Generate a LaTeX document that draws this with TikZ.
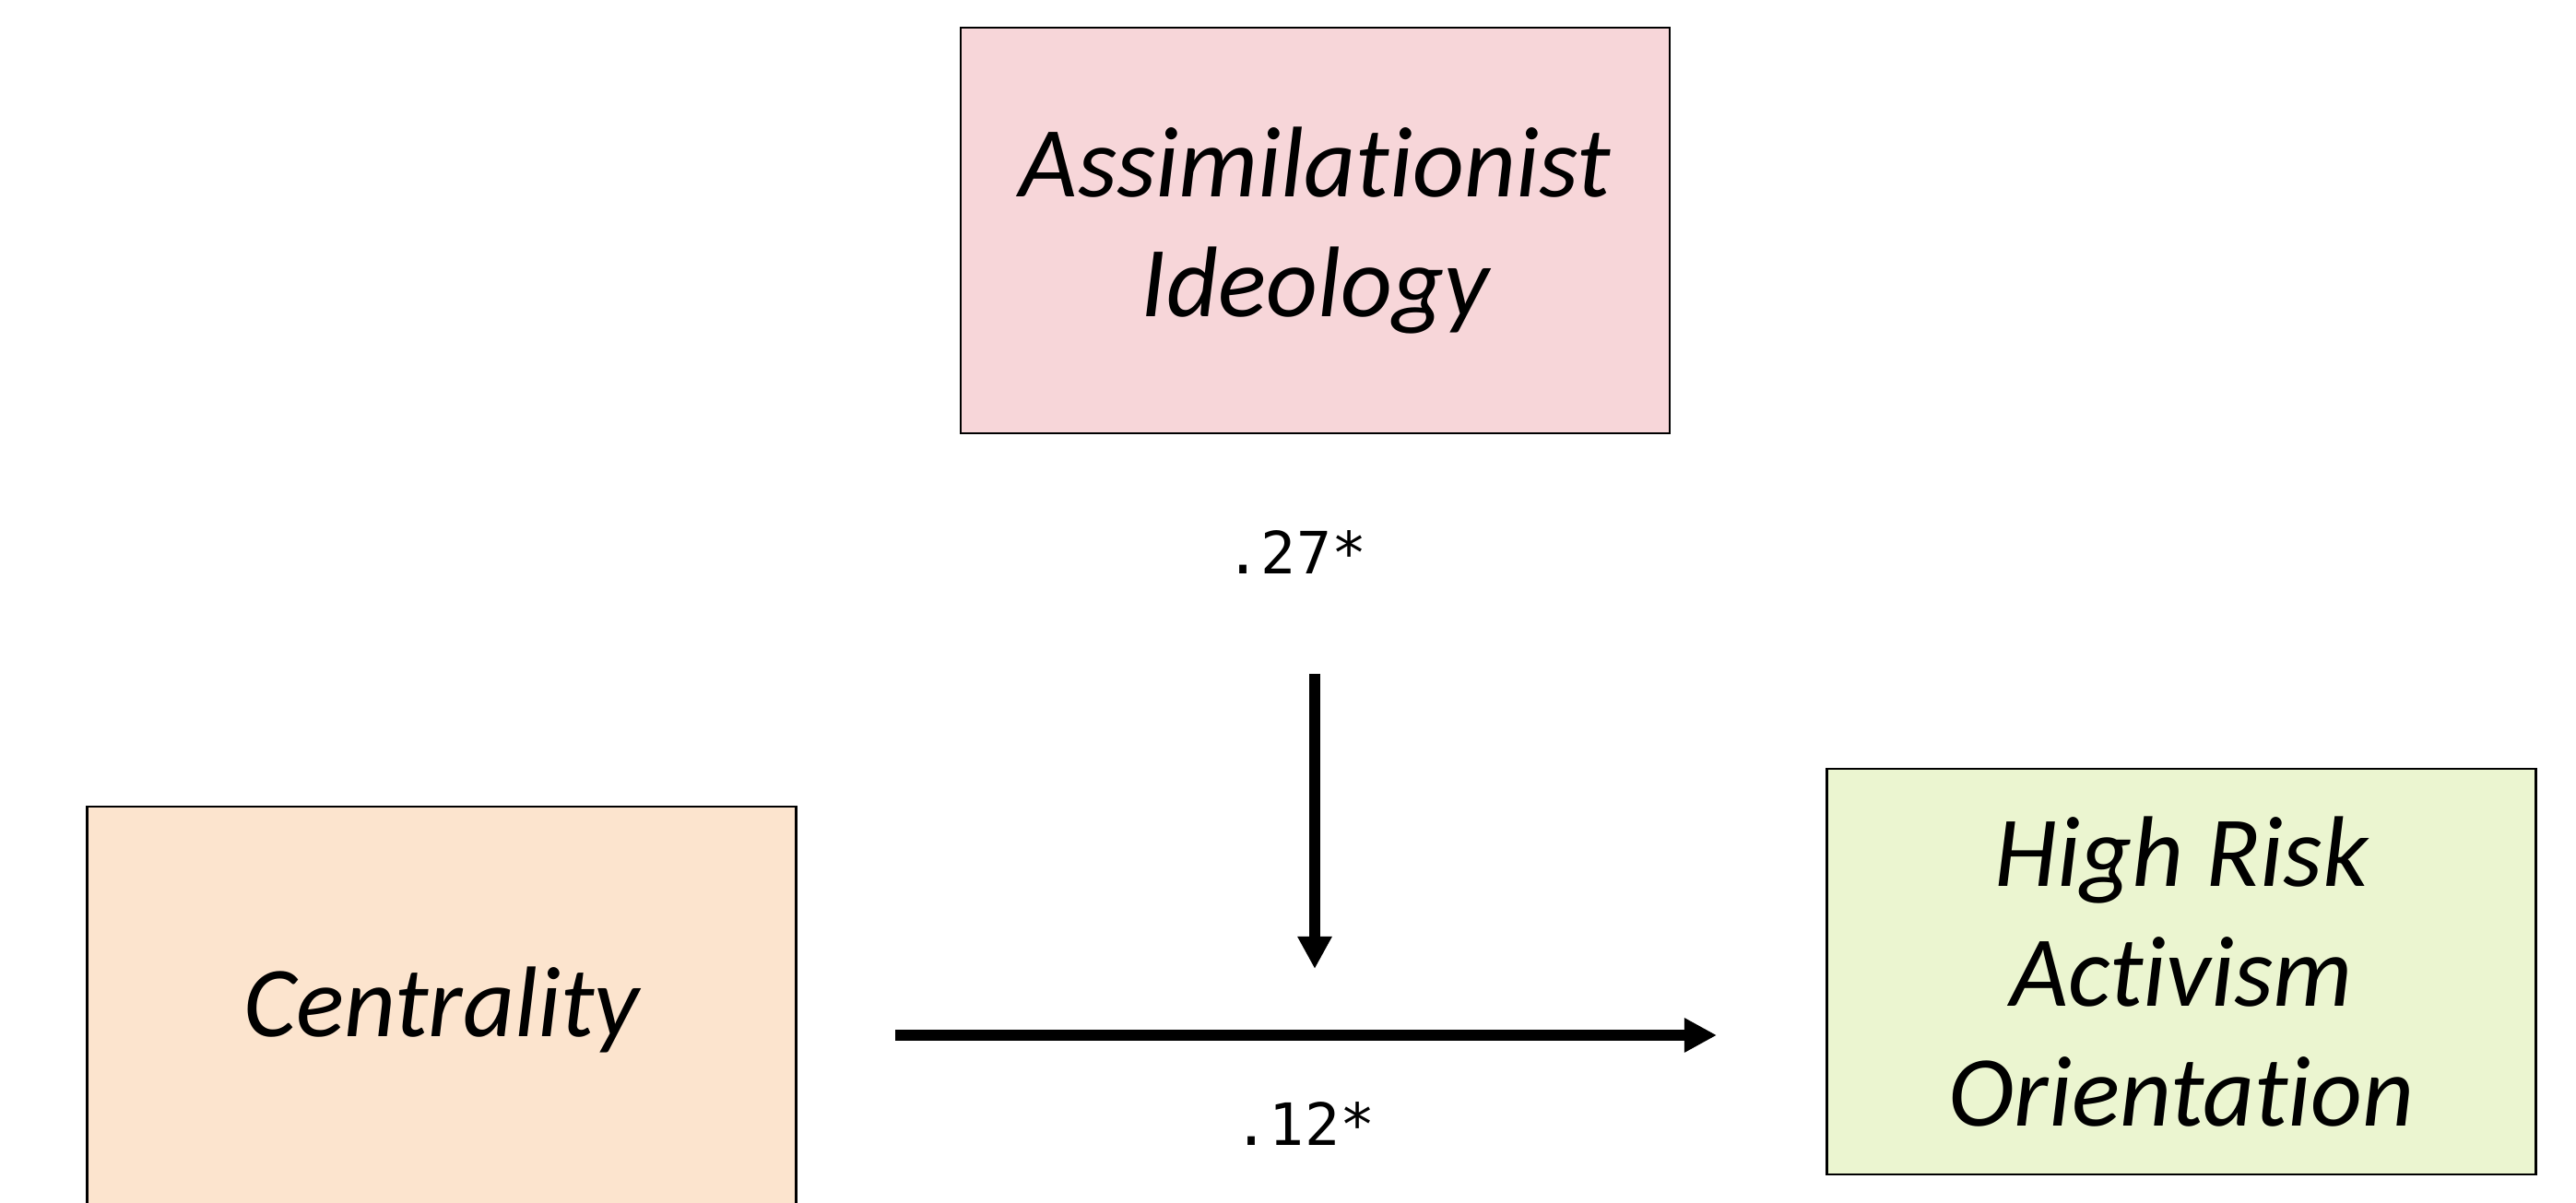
\documentclass[tikz,border=0pt]{standalone}
\usepackage{fontspec}
\setmainfont{Carlito}[Ligatures={NoCommon,NoRequired,NoContextual}]
\setmonofont{DejaVu Sans Mono}
\usetikzlibrary{arrows.meta}

\definecolor{ideopink}{RGB}{247,214,217}
\definecolor{centpeach}{RGB}{252,228,206}
\definecolor{riskgreen}{RGB}{235,245,208}

\tikzset{
    varbox/.style={draw=black, line width=0.6pt, minimum width=7.69cm, minimum height=4.40cm,
        inner sep=0pt, align=center, font=\fontsize{31}{37}\selectfont\itshape},
    patharrow/.style={line width=3.4pt, -{Triangle[length=10pt,width=10pt]}},
    coef/.style={anchor=base, inner sep=0pt, font=\ttfamily\fontsize{18}{22}\selectfont}
}

\begin{document}
\begin{tikzpicture}
    \useasboundingbox (0,0) rectangle (27.94,13.05);

    % Variables
    \node[varbox, fill=ideopink] (ideo) at (14.265,10.55) {Assimilationist\\Ideology};
    \node[varbox, fill=centpeach] (cent) at (4.79,2.10) {Centrality};
    \node[varbox, fill=riskgreen] (risk) at (23.66,2.51) {High Risk\\Activism\\Orientation};

    % Arrow ends
    \coordinate (xstart) at (9.71,1.82);
    \coordinate (xend) at (18.62,1.82);
    \coordinate (mstart) at (14.26,5.74);
    \coordinate (mend) at (14.26,2.54);

    % Paths
    \draw[patharrow] (xstart) -- (xend);
    \draw[patharrow] (mstart) -- (mend);

    % Coefficients
    \node[coef] (bmod) at (14.06,6.82) {.27*};
    \node[coef] (bx) at (14.15,0.62) {.12*};
\end{tikzpicture}
\end{document}
